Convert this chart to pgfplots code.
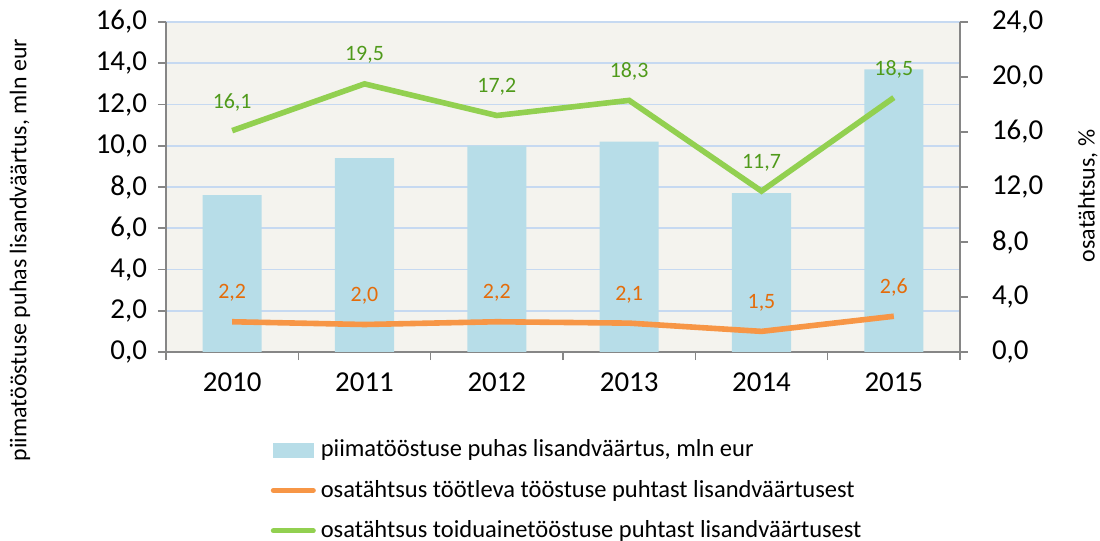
\documentclass[border=0pt]{standalone}
\usepackage{fontspec}
\setmainfont{Carlito}
\usepackage{pgfplots}
\pgfplotsset{compat=1.18}
\definecolor{barcol}{HTML}{B7DDE8}
\definecolor{orangel}{HTML}{F79646}
\definecolor{greenl}{HTML}{92D050}
\definecolor{orangetxt}{HTML}{E46C0A}
\definecolor{greentxt}{HTML}{4F9A1A}
\definecolor{bgcol}{HTML}{F4F3EE}
\definecolor{gridcol}{HTML}{C6D9F1}
\definecolor{axgray}{HTML}{868686}
\pgfplotsset{
  common/.style={
    scale only axis, width=397bp, height=165bp,
    xmin=-0.5, xmax=5.5,
    /pgf/number format/.cd, fixed, fixed zerofill, precision=1, use comma, assume math mode=true, /pgfplots/.cd,
    tick align=outside, major tick length=4bp, minor tick length=4bp,
    tick style={axgray, line width=0.8bp},
    axis line style={axgray, line width=0.8bp},
    ticklabel style={font=\fontsize{14.5}{16}\selectfont, text=black},
    label style={font=\fontsize{12}{14}\selectfont},
  }
}
\begin{document}
\begin{tikzpicture}
\path[use as bounding box] (-83bp,-94.5bp) rectangle (467bp,176bp);
\begin{axis}[common,
  ymin=0, ymax=16,
  axis y line*=left, axis x line*=bottom,
  axis background/.style={fill=bgcol},
  ytick={0,2,...,16}, ymajorgrids, grid style={gridcol, line width=0.8bp},
  xtick={-0.5,0.5,...,5.5}, x tick label as interval,
  xticklabels={2010,2011,2012,2013,2014,2015},
  xticklabel style={yshift=-3bp},
  yticklabel style={xshift=-2bp},
  ylabel={piimatööstuse puhas lisandväärtus, mln eur},
  ylabel style={at={(axis description cs:-0.184,0.309)}, anchor=center},
]
\addplot[ybar, bar width=0.446, fill=barcol, draw=none] coordinates {(0,7.6)(1,9.4)(2,10.0)(3,10.2)(4,7.7)(5,13.7)};
\end{axis}
\begin{axis}[common,
  ymin=0, ymax=24,
  axis y line*=right, axis x line=none,
  ytick={0,4,...,24},
  yticklabel style={xshift=8.5bp},
  ylabel={osatähtsus, \%},
  ylabel style={at={(axis description cs:1.161,0.473)}, anchor=center},
  legend style={at={(axis description cs:0.124,-0.241)}, anchor=north west, draw=none, fill=none,
    font=\fontsize{12.3}{14}\selectfont, row sep=6.25bp, cells={anchor=west},
    nodes={inner xsep=2.5bp}},
  legend image code/.code={\draw[#1, line width=2.5bp, line cap=round] (0bp,0bp) -- (20bp,0bp);},
  nodes near coords,
  every node near coord/.append style={font=\fontsize{11}{12}\selectfont, anchor=center, yshift=14.3bp, inner sep=0pt},
]
\addlegendimage{legend image code/.code={\fill[barcol] (0bp,-3.5bp) rectangle (20bp,3.5bp);}}
\addlegendentry{piimatööstuse puhas lisandväärtus, mln eur}
\addplot[orangel, line width=2.8bp, nodes near coords style={text=orangetxt}] coordinates {(0,2.2)(1,2.0)(2,2.2)(3,2.1)(4,1.5)(5,2.6)};
\addlegendentry{osatähtsus töötleva tööstuse puhtast lisandväärtusest}
\addplot[greenl, line width=2.8bp, nodes near coords style={text=greentxt}] coordinates {(0,16.1)(1,19.5)(2,17.2)(3,18.3)(4,11.7)(5,18.5)};
\addlegendentry{osatähtsus toiduainetööstuse puhtast lisandväärtusest}
\end{axis}
\end{tikzpicture}
\end{document}
